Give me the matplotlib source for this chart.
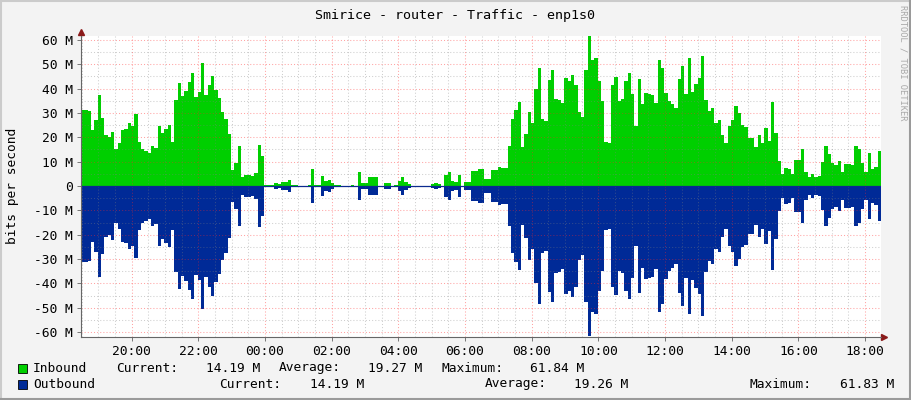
import numpy as np
import matplotlib
matplotlib.use('Agg')
import matplotlib.pyplot as plt
from matplotlib.lines import Line2D
from matplotlib.patches import Rectangle

# inbound traffic, Mbit/s, one value per 6 minutes starting 18:29
inbound = [
    31.2, 31.2, 31.0, 23, 27, 37.4, 27.8, 21, 20.3, 22.2,
    15, 17.5, 23, 23.4, 25.8, 24.8, 29.6, 18, 15.2, 14.5,
    13.4, 16.4, 15.5, 24.7, 21.6, 23.4, 25, 18.2, 35.3, 42.2,
    37, 39, 42.9, 46.3, 36.7, 38.6, 50.4, 37.4, 41.5, 45.3,
    39.5, 36, 30.5, 27.4, 21.2, 6.6, 9.3, 16.4, 3.8, 4.5,
    4.5, 4.1, 5.5, 16.8, 12.3, 0.3, 0.3, 0.3, 1.2, 0.8,
    1.5, 1.5, 2.5, 0.6, 0.3, 0.1, 0.1, 0.1, 0.5, 7.1,
    0.4, 0.4, 4.2, 2.2, 2.5, 1.1, 0.5, 0.5, 0.1, 0.1,
    0.1, 0.5, 0.1, 5.8, 1.1, 1.1, 3.7, 3.7, 3.7, 0.1,
    0.1, 1.2, 1.2, 0.1, 0.4, 2.0, 3.7, 1.6, 0.8, 0.1,
    0.1, 0.1, 0.1, 0.1, 0.1, 0.8, 1.1, 0.8, 0.1, 4.7,
    5.6, 2.2, 1.8, 4.5, 0.1, 1.8, 1.8, 6.0, 6.0, 6.8,
    7.0, 2.9, 2.9, 6.6, 6.6, 7.8, 7.5, 7.5, 16.4, 27.4,
    31.2, 34.5, 16.2, 21.4, 30.4, 26, 39.9, 48.4, 27.5, 26.8,
    43.6, 47.7, 35.8, 35.3, 34.2, 44.5, 43.3, 45.6, 41.5, 30.5,
    28.5, 47.7, 61.6, 51.8, 52.5, 43.2, 34.9, 18.1, 17.7, 41.5,
    44.8, 34.9, 35.8, 43.2, 46.4, 37.8, 24.7, 44, 33.7, 38.2,
    37.7, 37.4, 34.1, 51.8, 48.5, 38.2, 34.9, 33.7, 32.2, 44,
    49.3, 37.8, 52.5, 38.6, 41.9, 44.2, 53.4, 35.3, 30.8, 31.9,
    26, 27.1, 21, 17.7, 24.7, 27.1, 32.9, 30, 25.1, 24.2,
    19.6, 19.7, 15.9, 20.8, 17.8, 23.8, 18.6, 34.5, 21.8, 10.4,
    4.8, 7.4, 7.1, 4.8, 10.7, 10.7, 15.2, 5.8, 3.8, 4.9,
    3.6, 4.2, 9.9, 16.4, 13.2, 9.3, 8.8, 10.3, 5.9, 9,
    9, 8.8, 16.4, 15.3, 9.6, 5.8, 13.4, 7.1, 7.8, 14.19,
]
# outbound is drawn downwards, it mirrors inbound almost exactly
outbound = list(inbound)

start_hour = 18.48
step_hour = 0.1
hour_ticks = [20, 22, 24, 26, 28, 30, 32, 34, 36, 38, 40, 42]
hour_labels = ['20:00', '22:00', '00:00', '02:00', '04:00', '06:00',
               '08:00', '10:00', '12:00', '14:00', '16:00', '18:00']
y_ticks = [-60, -50, -40, -30, -20, -10, 0, 10, 20, 30, 40, 50, 60]
y_labels = ['-60 M', '-50 M', '-40 M', '-30 M', '-20 M', '-10 M', '0',
            '10 M', '20 M', '30 M', '40 M', '50 M', '60 M']

legend_rows = [
    ('Inbound', '#00CF00', [('Current:', 116, '14.19 M', 260),
                            ('Average:', 279, '19.27 M', 422),
                            ('Maximum:', 441, '61.84 M', 584)]),
    ('Outbound', '#002A97', [('Current:', 219, '14.19 M', 364),
                             ('Average:', 485, '19.26 M', 628),
                             ('Maximum:', 750, '61.83 M', 894)]),
]

W, H = 911, 400
mono = 'DejaVu Sans Mono'
fs = 9.3

fig = plt.figure(figsize=(W / 100, H / 100), dpi=100, facecolor='#F3F3F3')

def px(x, y):
    return x / W, 1 - y / H

left, right, top, bottom = 81, 881, 35.5, 336.5
ax = fig.add_axes([left / W, 1 - bottom / H, (right - left) / W, (bottom - top) / H])
ax.set_facecolor('white')

n = len(inbound)
xs = start_hour + step_hour * np.arange(n + 1)
inn = np.array(inbound + [inbound[-1]])
out = -np.array(outbound + [outbound[-1]])
ax.fill_between(xs, 0, inn, step='post', color='#00CF00', lw=0)
ax.fill_between(xs, 0, out, step='post', color='#002A97', lw=0)
ax.axhline(0, color='#0B2A8F', lw=0.9, zorder=4)

ax.set_xlim(start_hour, start_hour + 24)
ax.set_ylim(-61.84, 61.84)

# grids, rrdtool style (semi transparent, drawn over the areas)
minor_c = (0.5, 0.5, 0.5, 0.38)
major_c = (1.0, 0.15, 0.15, 0.42)
for h in np.arange(18.5, 42.6, 0.5):
    if h in hour_ticks:
        continue
    ax.axvline(h, color=minor_c, lw=0.75, ls=(0, (1, 2)), zorder=3)
for v in range(-60, 61, 5):
    if v % 10:
        ax.axhline(v, color=minor_c, lw=0.75, ls=(0, (1, 2)), zorder=3)
for h in hour_ticks:
    ax.axvline(h, color=major_c, lw=0.75, ls=(0, (1, 2)), zorder=3)
for v in y_ticks:
    if v:
        ax.axhline(v, color=major_c, lw=0.75, ls=(0, (1, 2)), zorder=3)

ax.set_xticks(hour_ticks)
ax.set_xticklabels(hour_labels, fontfamily=mono, fontsize=fs)
ax.set_yticks(y_ticks)
ax.set_yticklabels(y_labels, fontfamily=mono, fontsize=fs)
ax.tick_params(axis='both', length=3, width=0.7, color='#777777', pad=3)
for s in ['top', 'right']:
    ax.spines[s].set_visible(False)
for s in ['left', 'bottom']:
    ax.spines[s].set_color('#666666')
    ax.spines[s].set_linewidth(0.8)
    ax.spines[s].set_zorder(5)

ax.plot([0], [1.012], marker='^', ms=4, color='#8B1A1A', transform=ax.transAxes, clip_on=False)
ax.plot([1.004], [0], marker='>', ms=4, color='#8B1A1A', transform=ax.transAxes, clip_on=False)

fig.text(*px(13, 186), 'bits per second', rotation=90, ha='center', va='center',
         fontfamily=mono, fontsize=fs)

fig.text(*px(455, 15), 'Smirice - router - Traffic - enp1s0', ha='center', va='center',
         fontfamily=mono, fontsize=fs + 0.3)
fig.text(*px(903, 5), 'RRDTOOL / TOBI OETIKER', rotation=270, ha='center', va='top',
         fontfamily=mono, fontsize=6.3, color='#A8A8A8')

for i, (name, col, stats) in enumerate(legend_rows):
    yc = 368 + 16 * i
    fig.patches.append(Rectangle(px(18, yc + 5), 9 / W, 9 / H, transform=fig.transFigure,
                                 facecolor=col, edgecolor='black', lw=0.6))
    fig.text(*px(33, yc), name, ha='left', va='center', fontfamily=mono, fontsize=fs)
    for lab, lx, val, vx in stats:
        fig.text(*px(lx, yc), lab, ha='left', va='center', fontfamily=mono, fontsize=fs)
        fig.text(*px(vx, yc), val, ha='right', va='center', fontfamily=mono, fontsize=fs)

# shaded frame
fig.lines.append(Line2D([0, 1], [0.9985, 0.9985], transform=fig.transFigure, color='#CBCBCB', lw=1.5))
fig.lines.append(Line2D([0.001, 0.001], [0, 1], transform=fig.transFigure, color='#CBCBCB', lw=1.5))
fig.lines.append(Line2D([0, 1], [0.0025, 0.0025], transform=fig.transFigure, color='#9A9A9A', lw=1.5))
fig.lines.append(Line2D([0.9988, 0.9988], [0, 1], transform=fig.transFigure, color='#9A9A9A', lw=1.5))

fig.savefig('out.png', dpi=100, facecolor=fig.get_facecolor())
